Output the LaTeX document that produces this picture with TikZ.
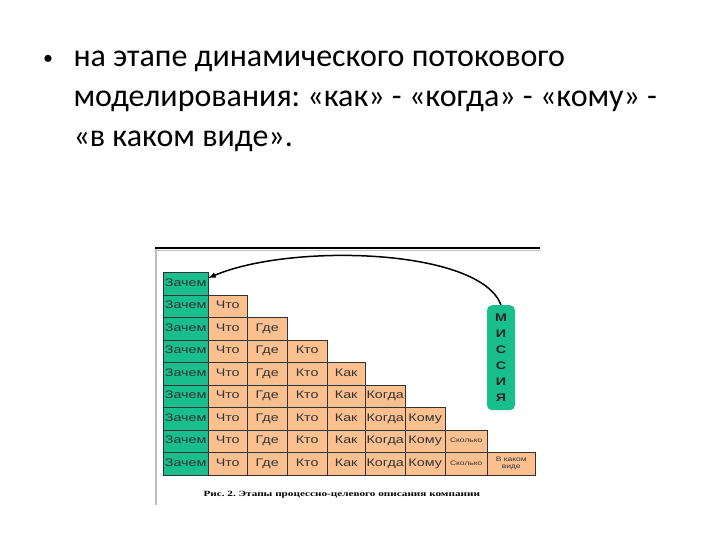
\documentclass[tikz,border=0pt]{standalone}
\usepackage{fontspec}
\setmainfont{Carlito}
\newfontfamily\cellfont[FakeStretch=1.3]{Liberation Sans}
\newfontfamily\capfont[FakeStretch=1.4]{Liberation Serif}
\usetikzlibrary{positioning}
\definecolor{mission}{RGB}{24,190,140}
\definecolor{peach}{RGB}{250,192,144}
\frenchspacing

\begin{document}
\begin{tikzpicture}[x=1pt, y=-1pt]

  \tikzstyle{cell}=[draw=black!80, inner sep=0, anchor=north west, minimum height=22.5pt, text height=8pt, text depth=2.5pt, text=black!80, font=\cellfont\fontsize{11}{12}\selectfont]
  \tikzstyle{why}=[cell, fill=mission, minimum width=45pt]
  \tikzstyle{stage}=[cell, fill=peach]
  \tikzstyle{small}=[stage, font=\cellfont\fontsize{6.5}{7.5}\selectfont]
  \tikzstyle{line}=[anchor=base west, font=\fontsize{32}{40}\selectfont]

  \useasboundingbox (0,0) rectangle (720,540);

  \node [anchor=base, font=\fontsize{20}{20}\selectfont] (bullet) at (48,65) {•};
  \node [line] (line-1) at (70,67) {на этапе динамического потокового};
  \node [line] (line-2) at (70,107) {моделирования: «как» - «когда» - «кому» -};
  \node [line] (line-3) at (70,147) {«в каком виде».};

  \draw [line width=1.2pt] (155,248) -- (540,248);
  \draw [gray!50, line width=1pt] (157,250.5) -- (540,250.5);
  \draw [gray!50, line width=1.5pt] (156,249) -- (156,505);

  \foreach \r in {0,...,8}
    \node [why] (zachem-\r) at (163, {272+22.5*\r}) {Зачем};

  \foreach \c/\x/\w/\t in {1/208/39/Что, 2/247/40/Где, 3/287/40/Кто, 4/327/38/Как, 5/365/40/Когда, 6/405/40/Кому}
    \foreach \r in {\c,...,8}
      \node [stage, minimum width=\w pt] (cell-\c-\r) at (\x, {272+22.5*\r}) {\t};

  \node [small, minimum width=42pt, text height=5pt, text depth=1.5pt] (cell-7-7) at (445, 429.5) {Сколько};
  \node [small, minimum width=42pt, text height=5pt, text depth=1.5pt] (cell-7-8) at (445, 452) {Сколько};
  \node [small, minimum width=48pt, align=center, text height=, text depth=] (cell-8-8) at (487, 452) {В каком\\виде};

  \node [fill=mission, rounded corners=5pt, minimum width=28pt, minimum height=105pt, anchor=north, align=center, text=black!85, font=\cellfont\bfseries\fontsize{11}{16}\selectfont] (missiya) at (501,305) {М\\И\\С\\С\\И\\Я};

  \draw [-latex, line width=1.5pt] (missiya.north) .. controls (480,248) and (290,243) .. ([yshift=-6pt]zachem-0.north east);

  \node [anchor=base west, font=\capfont\bfseries\fontsize{8}{9}\selectfont] (caption) at (200,496) {Рис. 2. Этапы процессно-целевого описания компании};
\end{tikzpicture}
\end{document}
